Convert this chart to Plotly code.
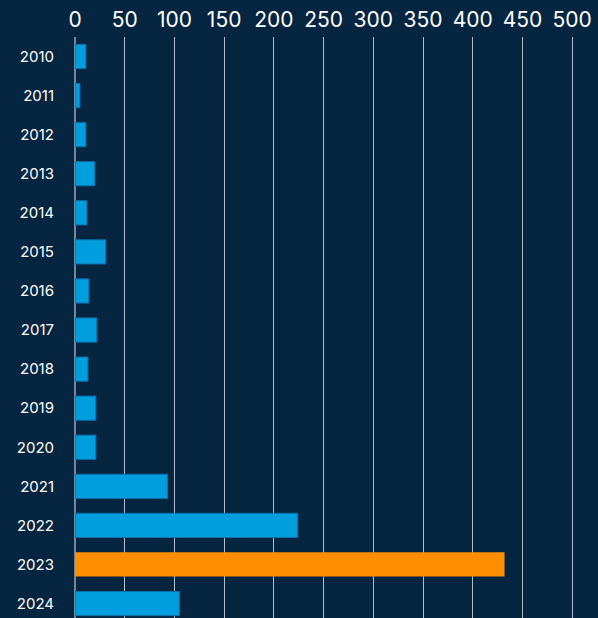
import plotly.graph_objects as go

years = ["2010", "2011", "2012", "2013", "2014", "2015", "2016", "2017",
         "2018", "2019", "2020", "2021", "2022", "2023", "2024"]
values = [11, 5, 11, 20, 12, 31, 14, 22, 13, 21, 21, 93, 224, 432, 105]
highlight_year = "2023"
x_ticks = [0, 50, 100, 150, 200, 250, 300, 350, 400, 450, 500]

BLUE = "#009ddf"
ORANGE = "#ff8f00"
BG = "#052540"

colors = [ORANGE if y == highlight_year else BLUE for y in years]
line_colors = ["rgba(0,0,0,0)" if y == highlight_year else "#0a6fa8" for y in years]

fig = go.Figure()
fig.add_trace(go.Bar(
    x=values, y=years, orientation="h",
    marker=dict(color=colors, line=dict(color=line_colors, width=1)),
    width=0.62,
    hoverinfo="x+y",
))

n_visible = 14.87
fig.update_layout(
    width=598, height=618,
    margin=dict(l=75, r=0, t=37, b=0),
    paper_bgcolor=BG, plot_bgcolor=BG,
    font=dict(family="Inter, Roboto, sans-serif", color="white"),
    showlegend=False,
    bargap=0.38,
)
fig.update_xaxes(
    side="top", range=[0, 526], tickvals=x_ticks,
    tickfont=dict(size=21, color="white"),
    showgrid=True, gridcolor="rgba(220,226,232,0.8)", gridwidth=1,
    zeroline=True, zerolinecolor="rgba(140,160,180,0.8)", zerolinewidth=1.5,
    showline=False, ticks="", ticklabelstandoff=5,
)
fig.update_yaxes(
    type="category", categoryorder="array", categoryarray=years,
    range=[-0.5 + n_visible, -0.5],
    tickfont=dict(size=15, color="white"),
    showgrid=False, zeroline=False, showline=False, ticks="",
    ticklabelstandoff=20,
)

# drop the browser's default page margin so the figure fills the window
fig.write_html("out.html", config={"displayModeBar": False},
               post_script="document.body.style.margin='0';")
